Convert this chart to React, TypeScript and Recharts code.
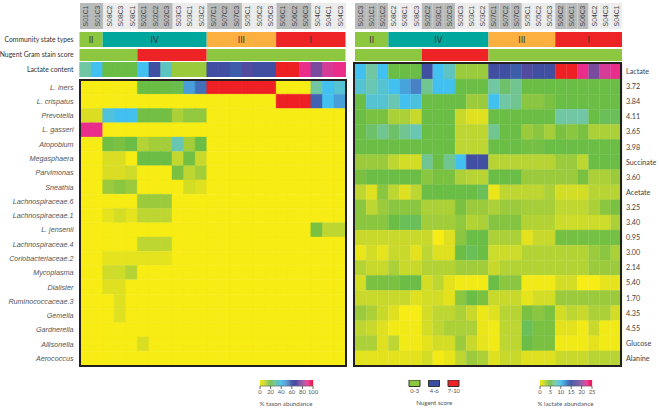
import React from "react";
import { BarChart, Bar, Cell, XAxis, YAxis, LabelList } from "recharts";

const samplesLeft = ["S01C1","S01C3","S08C2","S08C3","S08C1","S02C1","S02C2","S02C3","S03C3","S03C1","S03C2","S07C1","S07C2","S07C3","S05C1","S05C2","S05C3","S06C1","S06C2","S06C3","S04C2","S04C1","S04C3"];
const samplesRight = ["S01C3","S01C1","S01C2","S08C2","S08C1","S08C3","S02C2","S03C1","S02C3","S03C3","S03C1","S03C2","S07C1","S07C2","S07C3","S05C1","S05C2","S05C3","S06C2","S06C1","S06C3","S04C2","S04C3","S04C1"];
const headerLeftShade = [2,3,3,3,3,3,3,3];
const headerRightShade = [3,3,3,3,3,3,3,3];

const taxa = ["L. iners","L. crispatus","Prevotella","L. gasseri","Atopobium","Megasphaera","Parvimonas","Sneathia","Lachnospiraceae.6","Lachnospiraceae.1","L. jensenii","Lachnospiraceae.4","Coriobacteriaceae.2","Mycoplasma","Dialister","Ruminococcaceae.3","Gemella","Gardnerella","Allisonella","Aerococcus"];
const metabolites = ["Lactate","3.72","3.84","4.11","3.65","3.98","Succinate","3.60","Acetate","3.25","3.40","0.95","3.00","2.14","5.40","1.70","4.35","4.55","Glucose","Alanine"];

const taxonAbundance = [
  [0,0,0,0,0,20,20,20,21,47,55,100,100,100,100,100,100,0,0,0,30,40,36],
  [0,0,0,0,0,0,0,0,0,0,0,0,0,0,0,0,0,100,100,100,57,40,47],
  [5,5,37,40,40,19,19,19,12,15,15,0,0,0,0,0,0,0,0,0,0,0,0],
  [92,92,0,0,0,0,0,0,0,0,0,0,0,0,0,0,0,0,0,0,0,0,0],
  [0,0,19,18,20,11,13,13,32,13,20,0,0,0,0,0,0,0,0,0,0,0,0],
  [0,0,5,5,0,20,20,20,9,19,8,0,0,0,0,0,0,0,0,0,0,0,0],
  [0,0,5,5,7,0,0,0,18,10,13,0,0,0,0,0,0,0,0,0,0,0,0],
  [0,0,14,16,14,0,0,0,0,6,4,0,0,0,0,0,0,0,0,0,0,0,0],
  [0,0,0,0,0,14,14,14,0,0,0,0,0,0,0,0,0,0,0,0,0,0,0],
  [0,0,3,6,3,10,10,10,0,0,0,0,0,0,0,0,0,0,0,0,0,0,0],
  [0,0,0,0,0,0,0,0,0,0,0,0,0,0,0,0,0,0,0,0,18,10,10],
  [0,0,0,0,0,10,10,10,0,0,0,0,0,0,0,0,0,0,0,0,0,0,0],
  [0,0,3,3,3,3,3,3,0,0,0,0,0,0,0,0,0,0,0,0,0,0,0],
  [0,0,7,7,11,0,0,0,0,0,0,0,0,0,0,0,0,0,0,0,0,0,0],
  [0,0,4,4,0,0,0,0,0,0,0,0,0,0,0,0,0,0,0,0,0,0,0],
  [0,0,0,4,0,0,0,0,0,0,0,0,0,0,0,0,0,0,0,0,0,0,0],
  [0,0,0,4,0,0,0,0,0,0,0,0,0,0,0,0,0,0,0,0,0,0,0],
  [0,0,0,0,0,0,0,0,0,0,0,0,0,0,0,0,0,0,0,0,0,0,0],
  [0,0,0,0,0,5,0,0,0,0,0,0,0,0,0,0,0,0,0,0,0,0,0],
  [0,0,0,0,0,0,0,0,0,0,0,0,0,0,0,0,0,0,0,0,0,0,0],
];

const lactateContent = [7.5,10,5,5,5,10,15.5,8.5,3.5,3.5,3.5,15.5,15.5,14.5,17,15.5,15.5,25,25,23,19,22,23];

const lactateAbundance = [
  [10,7.5,10,5,5,5,15.5,10,8.5,3.5,3.5,3.5,15.5,15.5,14.5,17,15.5,15.5,25,25,23,19,22,23],
  [9,8,9,10,11.5,13,7,10,10,5,5,5,7.5,6,7,5,5,5,5,5,5,5,5,5],
  [5,9,9,8,10,9.5,5,5,5,5,3.5,3.5,10,7.5,7,4,4,4.5,5,5,5,5,5,5],
  [5,4.5,4.5,3,3,2,5,5,5,2,1,1,5,5,5,5,5,5,7.5,7.5,7.5,5,5.5,5.5],
  [5,6,7,6,7,8,5,5,5,2.5,2.5,2.5,7,5,5,3.5,4,3.2,4.5,4,4.5,3,3,3],
  [5,5,5,5,5,5,5,5,5,2.5,2.5,2.5,5,5,5,4.7,4.7,5,5,5,5,5,5,5],
  [3.5,3.5,3.5,2.5,1.5,1.5,7,5,7,10,15.5,15.5,2.7,2.7,2.7,2.7,2.7,2.7,3.5,3.5,2.5,5,5,5],
  [4.5,5,5,5,5,5,4,4.5,4.5,3,2.7,2.7,5,5,5,3.5,3.5,3.5,3.5,3.5,4.5,3,3,3.5],
  [2.5,1,4,2.5,1,2.5,5,5,5,5,5,5.5,0.5,2.5,2.5,2.5,2.5,3,1.5,1.5,1.5,2.7,2.7,2.7],
  [4,2.5,3.5,4,4,4,3,3,3,4.5,3.5,3.5,3,3.5,3.5,3.2,3.2,3.2,2.4,2.4,2.4,3,4,4.5],
  [4,4,4,5,5.5,5.5,3.3,3.3,3.3,3.8,2.8,3,4.2,4.2,4.2,2.8,2.8,2.8,1.8,1.8,1.8,1.8,1.8,3],
  [2,2,2,2,2,2,2,0,1,4,5,5,3,3,3,0.8,2,2,4.7,4.7,4.7,4.7,4.7,4.7],
  [0.5,1.5,0.7,2,2,0.8,2.5,1,1,5,5.5,5,1.8,1.8,1.8,2.8,2.8,2.8,2.8,2.8,2.8,3.5,4,3],
  [2.8,2,2,3,2,2,2.8,2.8,2.8,3.3,3.3,3.3,2,2.8,2.8,2.8,2.8,2.8,2.8,2.8,2.8,3.5,3.5,3.5],
  [1.5,4.5,4.5,4.5,5,5,1.5,2.5,0.8,0.2,0.2,0.2,5,4,4,0.2,0.2,0.2,1.5,1.5,0,0,0.7,0.7],
  [2,2,2,2,2,1,1.5,1.5,0.8,4,5,4.5,2,2,2,0.7,1.5,1.5,3.5,3.5,3.5,3.5,3.5,3.5],
  [3.5,3,2,1,0,0,1.5,2.5,2.5,3,2,0.4,1,2.7,2.7,4.5,4,4.5,1.5,2.5,2,3,3,1.5],
  [2.5,2,1,0.2,0.2,0.2,1.5,2.5,3,3,3,0.5,0.2,2.5,2.5,5.5,4.5,4.5,0.8,0.8,0.2,2,0.2,0.2],
  [3,3,1,2.5,0.2,0.2,0.8,1.5,1.5,3.5,2,0.7,0.2,2.5,2.5,5,4.5,4.5,0.2,0.2,0.2,0.8,0.2,0.2],
  [0.8,0.8,0.8,0.8,0.8,0.8,1.5,0.1,0.6,2.5,3.5,3,1,2,2,1,1,1,2,2,2,2.7,2.7,2.7],
];

const cstNames = ["II","IV","III","I"];
const cstLeft = [2,9,6,6];
const cstRight = [3,9,6,6];
const nugentLeft = [5,6,12];
const nugentRight = [6,6,12];
const nugentLegend = ["0-3","4-6","7-10"];
const taxonTicks = [0,20,40,60,80,100];
const lactateTicks = [0,5,10,15,20,25];

const CST_COLORS = ["#8dc63f","#00a79d","#fbb040","#ee2326"];
const NUG_COLORS = ["#8dc63f","#ee2326","#8dc63f"];
const NUG_LEGEND_COLORS = ["#8dc63f","#3b4da0","#ee2326"];

const STOPS: [number, number[]][] = [
  [0,[247,236,19]],[0.04,[222,224,32]],[0.10,[190,214,50]],[0.15,[146,200,62]],[0.20,[106,189,69]],
  [0.30,[113,199,164]],[0.40,[66,192,239]],[0.50,[74,143,208]],[0.60,[58,80,162]],[0.70,[88,74,159]],
  [0.80,[142,75,158]],[0.90,[233,55,150]],[0.96,[236,26,117]],[1,[238,32,36]],
];
function ramp(t: number) {
  for (let i = 1; i < STOPS.length; i++) {
    if (t <= STOPS[i][0]) {
      const [a, ca] = STOPS[i - 1];
      const [b, cb] = STOPS[i];
      const f = (t - a) / (b - a);
      return `rgb(${ca.map((c, k) => Math.round(c + (cb[k] - c) * f)).join(",")})`;
    }
  }
  return "rgb(238,32,36)";
}

const box = (left: number, top: number): React.CSSProperties => ({ position: "absolute", left, top });
const sideFont = "Lato, 'Open Sans', sans-serif";
const latin = "'Liberation Sans Narrow', 'Liberation Sans', sans-serif";
const band = "'Liberation Sans', sans-serif";

const lineTick = (fontSize: number, fill: string, family: string, anchor: string, dx: number, label: (v: any) => string, italic = false) =>
  (p: any) => (
    <text x={p.x + dx} y={p.y} dy="0.35em" textAnchor={anchor} fontSize={fontSize} fill={fill}
      fontFamily={family} fontStyle={italic ? "italic" : "normal"}>
      {label(p.payload.value)}
    </text>
  );

function Heat({ left, top, width, height, samples, labels, matrix, max, side, axisW, italic, fontSize, color }: any) {
  const rows = labels.length;
  const data = samples.map((s: string) => {
    const d: any = { s };
    labels.forEach((_: string, i: number) => (d["r" + i] = 1));
    return d;
  });
  const ticks = labels.map((_: string, i: number) => i + 0.5);
  const name = (v: number) => labels[Math.floor(v)];
  return (
    <div style={box(left, top)}>
      <BarChart width={width + axisW} height={height} data={data} barCategoryGap={0} barGap={0}
        margin={{ left: 0, right: 0, top: 0, bottom: 0 }}>
        <XAxis dataKey="s" hide />
        <YAxis type="number" reversed orientation={side} width={axisW} domain={[0, rows]} ticks={ticks} interval={0}
          tickLine={false} axisLine={false} tickMargin={0} tickSize={0} allowDataOverflow
          tick={lineTick(fontSize, color, italic ? latin : sideFont, side === "left" ? "end" : "start", side === "left" ? -6 : 4, name, italic)} />
        {labels.map((_: string, i: number) => (
          <Bar key={i} dataKey={"r" + i} stackId="h" isAnimationActive={false}>
            {samples.map((_s: string, c: number) => {
              const f = ramp(matrix[i][c] / max);
              return <Cell key={c} fill={f} stroke={f} strokeWidth={0.4} />;
            })}
          </Bar>
        ))}
      </BarChart>
    </div>
  );
}

function SampleBand({ left, top, width, height, samples, shade }: any) {
  const fills: string[] = [];
  shade.forEach((n: number, g: number) => {
    for (let i = 0; i < n; i++) fills.push(g % 2 === 0 ? "#b9baba" : "#ececec");
  });
  const data = samples.map((s: string) => ({ s, v: 1 }));
  return (
    <div style={box(left, top)}>
      <BarChart width={width} height={height} data={data} barCategoryGap={0} margin={{ left: 0, right: 0, top: 0, bottom: 0 }}>
        <XAxis dataKey="s" hide />
        <YAxis hide domain={[0, 1]} />
        <Bar dataKey="v" isAnimationActive={false}>
          {samples.map((_: string, i: number) => <Cell key={i} fill={fills[i]} />)}
          <LabelList dataKey="s" position="center" angle={-90} fontSize={6.8} fill="#444" fontFamily={band} />
        </Bar>
      </BarChart>
    </div>
  );
}

function Strip({ left, top, width, height, widths, colors, names, title, axisW }: any) {
  const d: any = { k: title || "" };
  widths.forEach((w: number, i: number) => (d["g" + i] = w));
  const total = widths.reduce((a: number, b: number) => a + b, 0);
  return (
    <div style={box(left, top)}>
      <BarChart layout="vertical" width={width + axisW} height={height} data={[d]} barCategoryGap={0}
        margin={{ left: 0, right: 0, top: 0, bottom: 0 }}>
        <XAxis type="number" hide domain={[0, total]} />
        <YAxis type="category" dataKey="k" width={axisW} tickLine={false} axisLine={false} tickSize={0} tickMargin={0} interval={0} hide={!title}
          tick={lineTick(6.8, "#333", sideFont, "end", -6, (v) => v)} />
        {widths.map((_: number, i: number) => (
          <Bar key={i} dataKey={"g" + i} stackId="c" fill={colors[i]} isAnimationActive={false}>
            {names && <LabelList position="center" fontSize={8.5} fill="#333" fontFamily={sideFont}
              formatter={() => names[i]} />}
          </Bar>
        ))}
      </BarChart>
    </div>
  );
}

function ColorLegend({ left, top, width, ticks, max, caption }: any) {
  const steps = Array.from({ length: 50 }, (_, i) => i);
  const d: any = { k: "scale" };
  steps.forEach((i) => (d["p" + i] = max / steps.length));
  const ramped = steps.map((i) => ramp((i + 0.5) / steps.length));
  return (
    <div style={box(left - 16, top)}>
      <BarChart layout="vertical" width={width + 32} height={29} data={[d]} barCategoryGap={0}
        margin={{ left: 16, right: 16, top: 0, bottom: 0 }}>
        <XAxis type="number" domain={[0, max]} ticks={ticks} interval={0} height={23} axisLine={{ stroke: "#666", strokeWidth: 0.6 }}
          tickLine={{ stroke: "#333", strokeWidth: 0.7 }} tickSize={3} tickMargin={1}
          tick={{ fontSize: 5.8, fill: "#555", fontFamily: sideFont }} />
        <YAxis type="category" dataKey="k" hide />
        {steps.map((i) => (
          <Bar key={i} dataKey={"p" + i} stackId="l" fill={ramped[i]} stroke={ramped[i]} strokeWidth={0.3} isAnimationActive={false} />
        ))}
      </BarChart>
      <div style={{ position: "absolute", left: 0, width: width + 32, top: 20, lineHeight: "8px", textAlign: "center", whiteSpace: "nowrap", fontFamily: sideFont, fontSize: 6.2, color: "#555" }}>{caption}</div>
    </div>
  );
}

function NugentLegend({ left, top }: any) {
  const data = nugentLegend.map((n) => ({ n, v: 1 }));
  return (
    <div style={box(left, top)}>
      <BarChart width={58.5} height={22} data={data} barSize={11} margin={{ left: 0, right: 0, top: 0, bottom: 0 }}>
        <XAxis dataKey="n" interval={0} height={15.5} axisLine={false} tickLine={false} tickMargin={0} tickSize={2}
          tick={{ fontSize: 5.8, fill: "#555", fontFamily: sideFont }} />
        <YAxis hide domain={[0, 1]} />
        <Bar dataKey="v" stroke="#333" strokeWidth={1} isAnimationActive={false}>
          {nugentLegend.map((_, i) => <Cell key={i} fill={NUG_LEGEND_COLORS[i]} />)}
        </Bar>
      </BarChart>
      <div style={{ position: "absolute", left: -10, width: 78.5, top: 19, lineHeight: "8px", textAlign: "center", fontFamily: sideFont, fontSize: 6.2, color: "#555" }}>Nugent score</div>
    </div>
  );
}

const frame = (left: number, top: number, w: number, h: number): React.CSSProperties => ({
  position: "absolute", left, top, width: w, height: h, border: "2px solid #231f20", boxSizing: "border-box", pointerEvents: "none",
});

export default function App() {
  const LX = 79.5, LW = 266, RX = 354.5, RW = 267;
  return (
    <div style={{ position: "fixed", left: 0, top: 0, width: 659, height: 409, background: "#fff", overflow: "hidden" }}>
      <SampleBand left={LX} top={3} width={LW} height={26} samples={samplesLeft} shade={headerLeftShade} />
      <SampleBand left={RX} top={3} width={RW} height={26} samples={samplesRight} shade={headerRightShade} />

      <Strip left={0} top={32} width={LW} height={15} axisW={LX} widths={cstLeft} colors={CST_COLORS} names={cstNames} title="Community state types" />
      <Strip left={0} top={49} width={LW} height={11.5} axisW={LX} widths={nugentLeft} colors={NUG_COLORS} title="Nugent Gram stain score" />
      <Strip left={RX} top={32} width={RW} height={15} axisW={0} widths={cstRight} colors={CST_COLORS} names={cstNames} />
      <Strip left={RX} top={49} width={RW} height={11.5} axisW={0} widths={nugentRight} colors={NUG_COLORS} />

      <Heat left={0} top={62} width={LW} height={15} axisW={LX} samples={samplesLeft} labels={["Lactate content"]}
        matrix={[lactateContent]} max={25} side="left" fontSize={6.8} color="#333" />
      <Heat left={0} top={80} width={LW} height={285.5} axisW={LX} samples={samplesLeft} labels={taxa}
        matrix={taxonAbundance} max={100} side="left" italic fontSize={7.2} color="#555" />
      <Heat left={RX} top={63.5} width={RW} height={302} axisW={38} samples={samplesRight} labels={metabolites}
        matrix={lactateAbundance} max={25} side="right" fontSize={7.2} color="#444" />

      <div style={frame(78.5, 79, 268.5, 287.5)} />
      <div style={frame(352.5, 62, 269.5, 304.5)} />

      <ColorLegend left={259.5} top={380} width={53} ticks={taxonTicks} max={100} caption="% taxon abundance" />
      <NugentLegend left={405} top={380} />
      <ColorLegend left={539.5} top={380} width={52} ticks={lactateTicks} max={25} caption="% lactate abundance" />
    </div>
  );
}
